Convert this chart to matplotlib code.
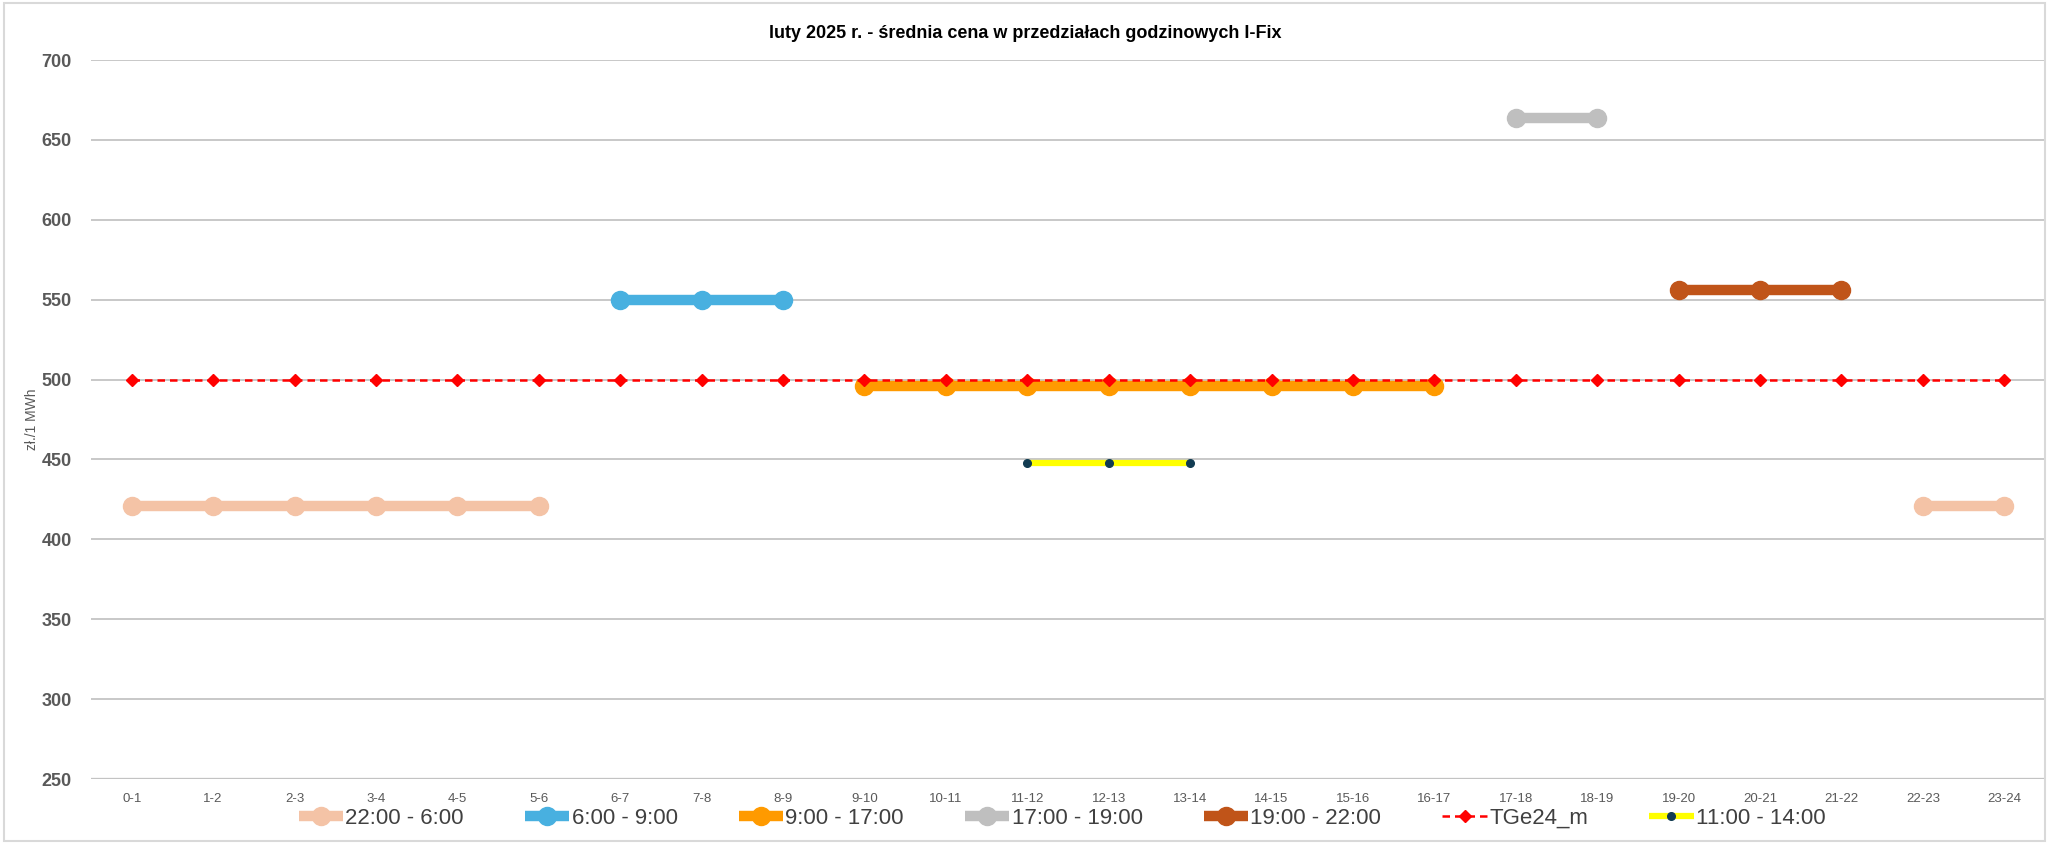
import numpy as np
import matplotlib
matplotlib.use("Agg")
import matplotlib.pyplot as plt
from matplotlib.patches import Rectangle

hours = ["0-1", "1-2", "2-3", "3-4", "4-5", "5-6", "6-7", "7-8", "8-9", "9-10",
         "10-11", "11-12", "12-13", "13-14", "14-15", "15-16", "16-17", "17-18",
         "18-19", "19-20", "20-21", "21-22", "22-23", "23-24"]

nan = np.nan
night = [421, 421, 421, 421, 421, 421] + [nan] * 16 + [421, 421]
morning = [nan] * 6 + [550, 550, 550] + [nan] * 15
day = [nan] * 9 + [496, 496, 496, 496, 496, 496, 496, 496] + [nan] * 7
evening1 = [nan] * 17 + [664, 664] + [nan] * 5
evening2 = [nan] * 19 + [556, 556, 556] + [nan] * 2
tge = [499.6] * 24
midday = [nan] * 11 + [448, 448, 448] + [nan] * 10

plt.rcParams['font.family'] = ['Liberation Sans', 'DejaVu Sans']

fig = plt.figure(figsize=(20.49, 8.43), dpi=100)
ax = fig.add_axes([91 / 2049, 1 - 779 / 843, (2045 - 91) / 2049, (779 - 60) / 843])

x = np.arange(len(hours))

def seg(y, color, lw, ms, label, mcolor=None, ls='-', marker='o'):
    ax.plot(x, y, color=color, lw=lw, ls=ls, marker=marker, ms=ms,
            markerfacecolor=mcolor or color, markeredgecolor=mcolor or color,
            label=label, solid_capstyle='butt')

seg(night, '#F4C3A6', 7.5, 13, '22:00 - 6:00')
seg(morning, '#48B0E0', 7.5, 13, '6:00 - 9:00')
seg(day, '#FF9A00', 7.5, 13, '9:00 - 17:00')
seg(evening1, '#BFBFBF', 7.5, 13, '17:00 - 19:00')
seg(evening2, '#C05419', 7.5, 13, '19:00 - 22:00')
seg(tge, '#FF0000', 1.8, 6, 'TGe24_m', ls=(0, (3, 2)), marker='D')
seg(midday, '#FFFF00', 4.5, 5.5, '11:00 - 14:00', mcolor='#123C52')

ax.set_xlim(-0.5, 23.5)
ax.set_ylim(250, 700)
ax.set_yticks(np.arange(250, 701, 50))
ax.set_xticks(x)
ax.set_xticklabels(hours, fontsize=9.5, color='#595959')
ax.tick_params(axis='both', length=0)
ax.tick_params(axis='x', pad=10)
ax.tick_params(axis='y', pad=14)
for lab in ax.get_yticklabels():
    lab.set_fontsize(13)
    lab.set_fontweight('bold')
    lab.set_color('#595959')
ax.grid(axis='y', color='#BFBFBF', lw=1.2)
ax.set_axisbelow(True)
for s in ax.spines.values():
    s.set_visible(False)
ax.axhline(250, color='#D9D9D9', lw=2.5, zorder=0)

ax.set_ylabel('zł./1 MWh', fontsize=10, color='#595959', labelpad=2)

fig.text(1025 / 2049, 1 - 33 / 843, 'luty 2025 r. - średnia cena w przedziałach godzinowych I-Fix',
         ha='center', va='center', fontsize=13, fontweight='bold', color='#000000')

ax.legend(loc='center', bbox_to_anchor=(1062 / 2049, 1 - 818 / 843),
          bbox_transform=fig.transFigure, ncol=7, frameon=False,
          fontsize=16, handlelength=2.0, handletextpad=0.1, columnspacing=2.75,
          labelcolor='#404040')

fig.patches.append(Rectangle((0.002, 0.002), 0.996, 0.995, transform=fig.transFigure,
                             fill=False, edgecolor='#D9D9D9', lw=1.5))

fig.savefig('out.png', dpi=100)
